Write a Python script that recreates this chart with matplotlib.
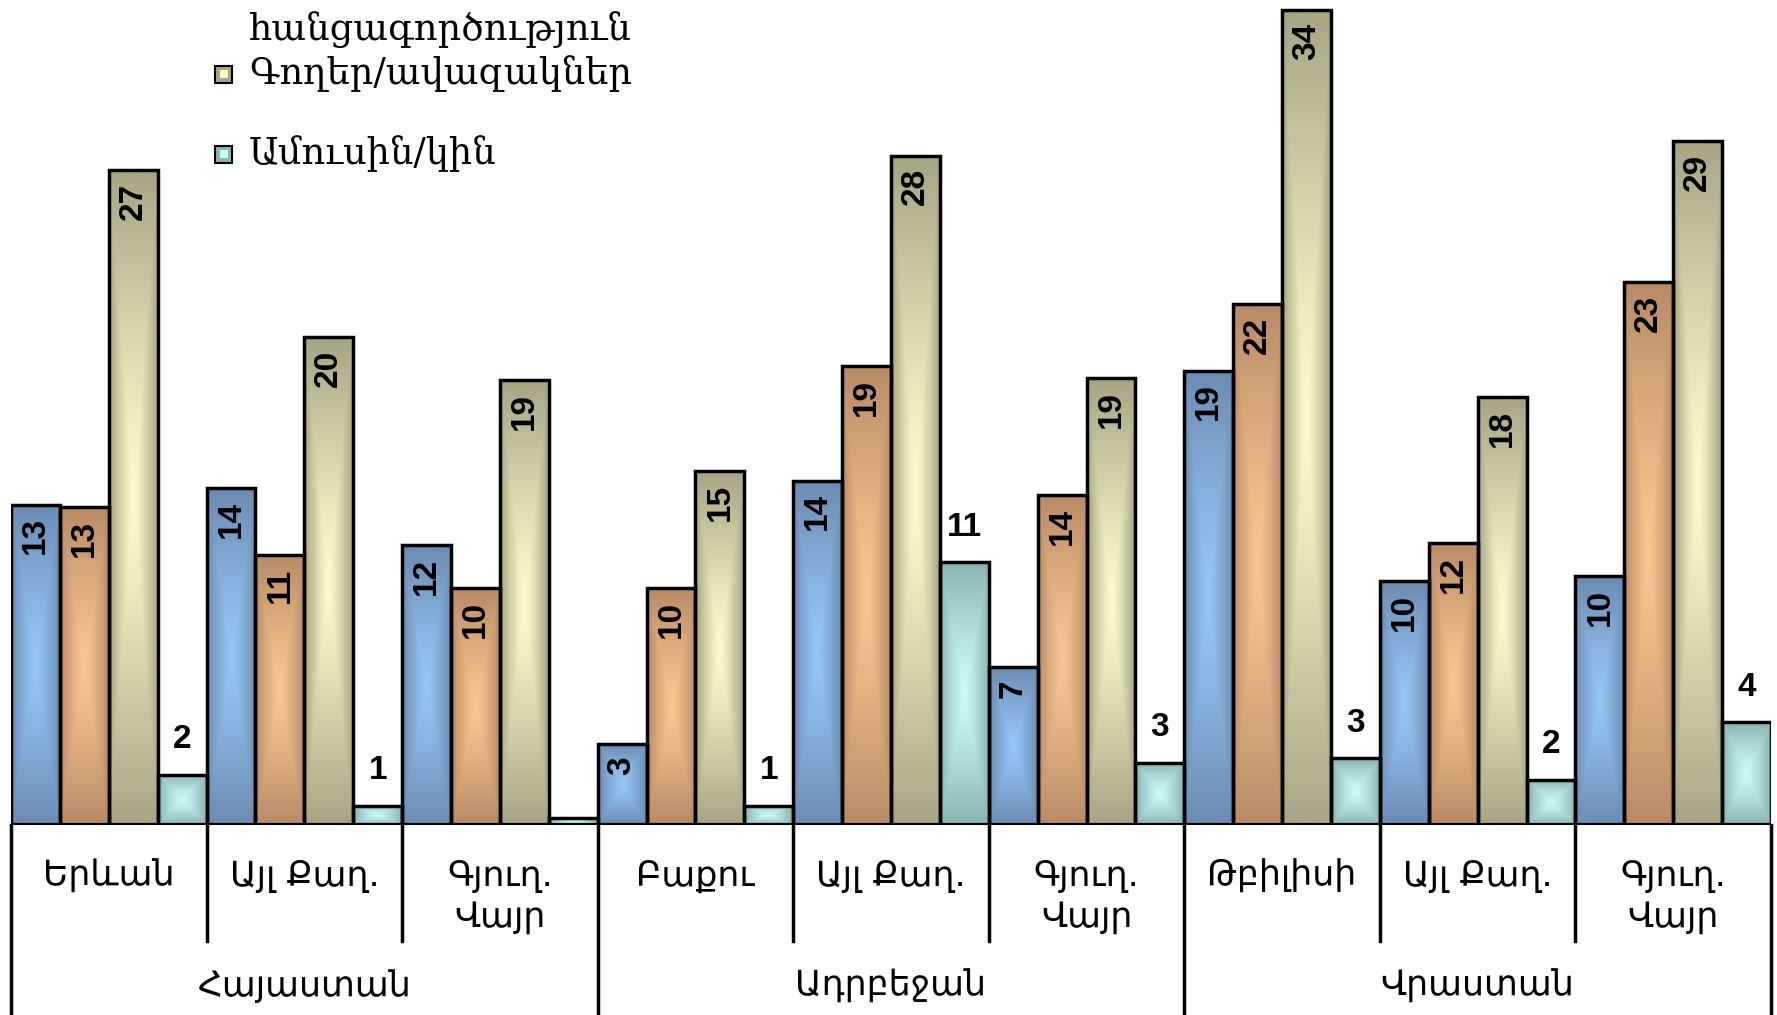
import numpy as np
import matplotlib
matplotlib.use("Agg")
import matplotlib.pyplot as plt
from matplotlib.patches import Rectangle
from matplotlib import transforms

# ---------------- data ----------------
countries = ["Հայաստան", "Ադրբեջան", "Վրաստան"]
places = ["Երևան", "Այլ Քաղ.", "Գյուղ.\nՎայր",
          "Բաքու", "Այլ Քաղ.", "Գյուղ.\nՎայր",
          "Թբիլիսի", "Այլ Քաղ.", "Գյուղ.\nՎայր"]
series_names = ["Ոստիկաններ", "Կազմակերպված\nհանցագործություն",
                "Գողեր/ավազակներ", "Ամուսին/կին"]
blue = [13.4, 14.1, 11.7, 3.4, 14.4, 6.6, 19.0, 10.2, 10.4]
orange = [13.3, 11.3, 9.9, 9.9, 19.2, 13.8, 21.8, 11.8, 22.7]
yellow = [27.4, 20.4, 18.6, 14.8, 28.0, 18.7, 34.1, 17.9, 28.6]
cyan = [2.1, 0.8, 0.3, 0.8, 11.0, 2.6, 2.8, 1.9, 4.3]

series = [blue, orange, yellow, cyan]
edge_cols = ["#6C8BB2", "#B98B66", "#A7A584", "#8CB4B4"]
center_cols = ["#95C8F8", "#FAC792", "#FFFCCC", "#CBFBFA"]

W, H = 1777, 1015
fig = plt.figure(figsize=(W / 100, H / 100), dpi=100)
base_px = 825
ax = fig.add_axes([11 / W, 1 - base_px / H, 1760 / W, base_px / H])
ymax = base_px / 23.9


def hex2rgb(h):
    h = h.lstrip("#")
    return np.array([int(h[i:i + 2], 16) / 255 for i in (0, 2, 4)])


def gradient(edge, center, n=80):
    u = np.linspace(-1, 1, n)
    U, V = np.meshgrid(u, u)
    t = np.maximum(np.abs(U), np.abs(V)) ** 1.2
    e, c = hex2rgb(edge), hex2rgb(center)
    return c[None, None, :] + (e - c)[None, None, :] * t[..., None]


nser = len(series)
ngroups = len(places)
for s, vals in enumerate(series):
    xs = np.arange(ngroups) * nser + s
    img = gradient(edge_cols[s], center_cols[s])
    for x, v in zip(xs, vals):
        ax.imshow(img, extent=(x - 0.5, x + 0.5, 0, v), aspect="auto",
                  interpolation="bilinear", zorder=2, origin="lower")
    ax.bar(xs, vals, width=1.0, facecolor="none", edgecolor="black",
           linewidth=2.5, zorder=3)
    for x, v in zip(xs, vals):
        lab = "%.0f" % v
        if lab == "0":
            continue
        if s < 3:
            ax.annotate(lab, (x, v), xytext=(0, -9), textcoords="offset points",
                        rotation=90, ha="center", va="top", fontsize=24,
                        fontweight="bold", family="Liberation Sans", zorder=5)
        else:
            ax.annotate(lab, (x, v), xytext=(0, 14), textcoords="offset points",
                        ha="center", va="bottom", fontsize=24,
                        fontweight="bold", family="Liberation Sans", zorder=5)

ntot = ngroups * nser
ax.set_xlim(-0.5, ntot - 0.5)
ax.set_ylim(0, ymax)
ax.set_aspect("auto")
for sp in ax.spines.values():
    sp.set_visible(False)
ax.set_xticks([])
ax.set_yticks([])
ax.axhline(0, color="black", lw=3, zorder=6)

trans = transforms.blended_transform_factory(ax.transData, ax.transAxes)


def ay(px):
    return (base_px - px) / base_px


# dividers
for g in range(1, ngroups):
    xd = g * nser - 0.5
    if g % 3 == 0:
        continue
    ax.plot([xd, xd], [0, ay(941)], color="black", lw=2.5, transform=trans,
            clip_on=False)
for c in range(len(countries) + 1):
    xd = c * 3 * nser - 0.5
    ax.plot([xd, xd], [0, ay(1020)], color="black", lw=2.5, transform=trans,
            clip_on=False)

for g, p in enumerate(places):
    ax.text(g * nser + 1.5, ay(859), p, transform=trans, ha="center", va="top",
            fontsize=25, family="DejaVu Sans", linespacing=1.25)
for c, name in enumerate(countries):
    ax.text(c * 3 * nser + 5.5, ay(986), name, transform=trans, ha="center",
            va="center", fontsize=25, family="DejaVu Sans")

# legend (partly above the figure edge, as in the reference)
sq_y = [-110, -40, 74, 154]        # pixel centres of the legend squares
text_y = [-110, 5, 74, 154]        # pixel centres of the legend labels
for i, name in enumerate(series_names):
    fy = 1 - sq_y[i] / H
    sq = 17
    fig.patches.append(Rectangle((215 / W, fy - sq / 2 / H), sq / W, sq / H,
                                 transform=fig.transFigure, facecolor=edge_cols[i],
                                 edgecolor="black", lw=1.5))
    fig.patches.append(Rectangle((220 / W, fy - 4 / H), 8 / W, 8 / H,
                                 transform=fig.transFigure, facecolor=center_cols[i],
                                 edgecolor="none"))
    fig.text(249 / W, 1 - text_y[i] / H, name, ha="left", va="center",
             fontsize=26.5, family="DejaVu Serif", linespacing=1.4)

fig.savefig("out.png", dpi=100)
